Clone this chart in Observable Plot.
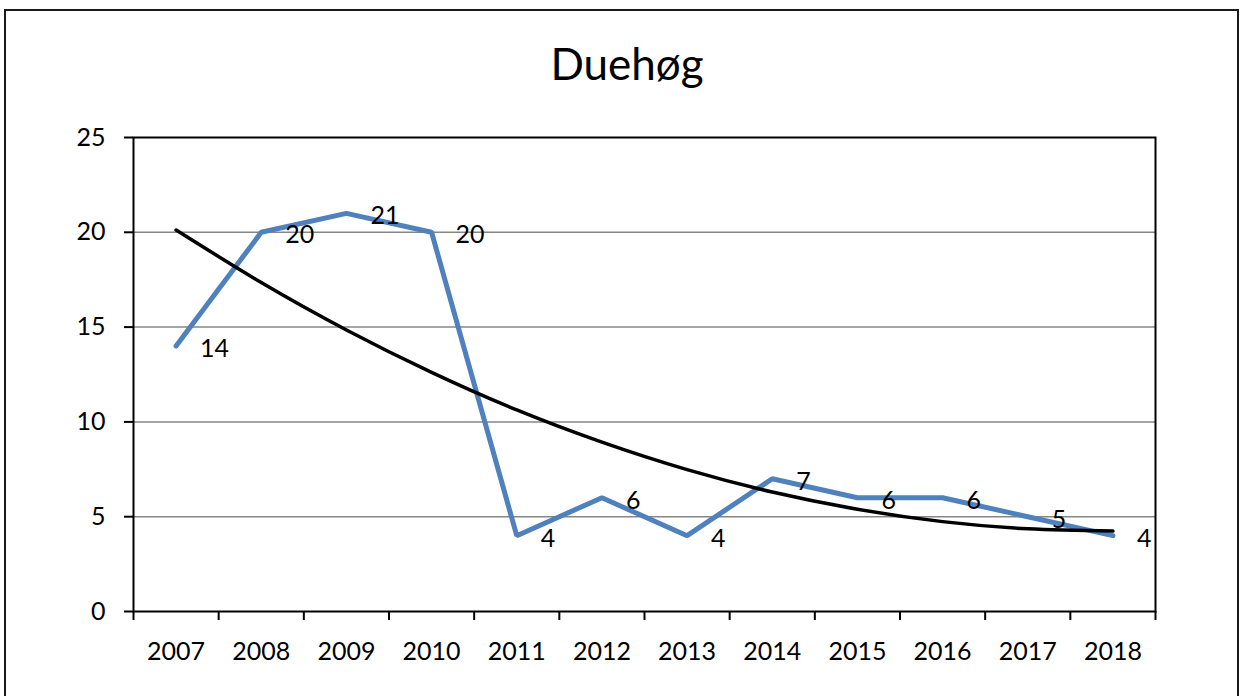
<!DOCTYPE html>
<html>
<head>
<meta charset="utf-8">
<script src="https://cdn.jsdelivr.net/npm/d3@7"></script>
<script src="https://cdn.jsdelivr.net/npm/@observablehq/plot@0.6"></script>
<style>
  html, body { margin: 0; padding: 0; background: #fff; }
  #wrap { position: relative; width: 1243px; height: 696px; overflow: hidden; background: #fff; }
  #border { position: absolute; left: 4px; top: 9px; width: 1235px; height: 720px; border: 2px solid #1a1a1a; box-sizing: border-box; }
  #title { position: absolute; left: 627px; top: 63px; transform: translate(-50%, -50%); font-family: "Lato", sans-serif; font-size: 44px; line-height: 1; color: #000; white-space: nowrap; }
  #chart { position: absolute; left: 0; top: 100px; }
</style>
</head>
<body>
<div id="wrap">
  <div id="border"></div>
  <div id="title"></div>
  <div id="chart"></div>
</div>
<script>
const title = "Duehøg";
const years = [2007, 2008, 2009, 2010, 2011, 2012, 2013, 2014, 2015, 2016, 2017, 2018];
const counts = [14, 20, 21, 20, 4, 6, 4, 7, 6, 6, 5, 4];
const trend = [20.12, 17.35, 14.85, 12.61, 10.63, 8.93, 7.48, 6.30, 5.39, 4.74, 4.36, 4.24];
const yTicks = [0, 5, 10, 15, 20, 25];

document.getElementById("title").textContent = title;

const data = years.map((yr, i) => ({year: yr, count: counts[i], trend: trend[i]}));
const boundaries = years.map(y => y - 0.5).concat([years[years.length - 1] + 0.5]);

const chart = Plot.plot({
  width: 1243,
  height: 596,
  marginTop: 37,
  marginBottom: 85,
  marginLeft: 133,
  marginRight: 88,
  style: {fontFamily: "Lato, sans-serif", fontSize: "25px", color: "black", background: "transparent", overflow: "visible"},
  x: {type: "linear", domain: [boundaries[0], boundaries[boundaries.length - 1]]},
  y: {domain: [0, 25]},
  marks: [
    Plot.ruleY(yTicks.filter(v => v > 0 && v < 25), {stroke: "#868686", strokeWidth: 1.5}),
    Plot.axisY({ticks: yTicks, tickSize: 9, tickPadding: 19, label: null, strokeWidth: 2, fontSize: 25}),
    Plot.axisX({ticks: boundaries, tickSize: 9, tickFormat: () => "", label: null, strokeWidth: 2}),
    Plot.axisX({ticks: years, tickSize: 0, tickPadding: 31, tickFormat: d => String(d), label: null, fontSize: 25}),
    Plot.frame({stroke: "black", strokeWidth: 2}),
    Plot.line(data, {x: "year", y: "count", stroke: "#4F81BD", strokeWidth: 5, strokeLinecap: "round", strokeLinejoin: "miter"}),
    Plot.line(data, {x: "year", y: "trend", stroke: "black", strokeWidth: 3.5, curve: "natural", strokeLinecap: "round"}),
    Plot.text(data, {x: "year", y: "count", text: d => String(d.count), textAnchor: "start", dx: 24, dy: 3, fontSize: 25, fill: "black"})
  ]
});
document.getElementById("chart").appendChild(chart);
</script>
</body>
</html>
